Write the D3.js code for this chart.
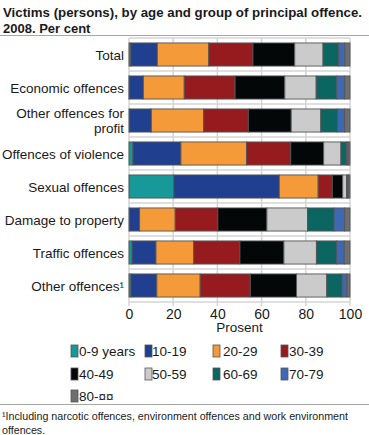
<!DOCTYPE html>
<html><head><meta charset="utf-8">
<script src="https://cdn.jsdelivr.net/npm/d3@7"></script>
<style>body{margin:0;background:#fff;} text{font-family:"Liberation Sans",Arial,sans-serif;fill:#1a1a1a;}</style>
</head><body><svg id="c" width="369" height="435"></svg>
<script>
const categories = ["Total","Economic offences","Other offences for profit","Offences of violence","Sexual offences","Damage to property","Traffic offences","Other offences¹"];
const ageGroups = ["0-9 years","10-19","20-29","30-39","40-49","50-59","60-69","70-79","80-¤¤"];
const colors = ["#17999a","#213f8f","#f49a38","#961b1e","#030708","#cbcbcb","#0b6661","#3d68b4","#6d6e71"];
const totalVals      = [0.8, 12.0, 23.3, 20.0, 18.9, 12.8, 7.1, 2.8, 2.3];
const economicVals   = [0.1, 6.4, 18.5, 23.0, 22.5, 14.2, 9.3, 3.6, 2.4];
const profitVals     = [0.2, 9.9, 23.7, 20.2, 19.4, 13.4, 7.6, 3.2, 2.4];
const violenceVals   = [1.8, 21.7, 29.7, 20.0, 14.9, 7.8, 2.6, 0.7, 0.8];
const sexualVals     = [20.3, 47.7, 17.6, 6.4, 4.7, 1.8, 0.4, 0.3, 0.8];
const damageVals     = [0.2, 4.6, 16.1, 19.3, 22.2, 18.4, 12.0, 4.8, 2.4];
const trafficVals    = [1.4, 10.8, 17.1, 20.9, 19.9, 14.7, 9.2, 3.4, 2.6];
const otherVals      = [0.9, 11.7, 19.6, 22.7, 20.9, 13.7, 6.9, 2.2, 1.4];
const xTicks = [0, 20, 40, 60, 80, 100];
const titleLines = ["Victims (persons), by age and group of principal offence.", "2008. Per cent"];
const xTitle = "Prosent";
const footnoteLines = ["¹Including narcotic offences, environment offences and work environment", "offences."];
const labelLines = {"Other offences for profit": ["Other offences for", "profit"]};

const seriesByCat = [totalVals, economicVals, profitVals, violenceVals, sexualVals, damageVals, trafficVals, otherVals];
const rows = categories.map((c, i) => {
  const o = {cat: c};
  ageGroups.forEach((a, j) => o[a] = seriesByCat[i][j]);
  return o;
});
const stacked = d3.stack().keys(ageGroups)(rows);

const svg = d3.select("#c");
const FONT = 13.5;

// Title
const tt = svg.selectAll("text.title").data(titleLines).join("text")
  .attr("class", "title").attr("x", 3).attr("y", (d, i) => 17 + i * 15.5)
  .style("font-weight", "bold").style("font-size", "13px").text(d => d);
tt.each(function () {
  const w = this.getComputedTextLength();
  if (w > 300 && w < 359) {
    d3.select(this).attr("textLength", 359).attr("lengthAdjust", "spacingAndGlyphs");
  }
});
svg.append("line").attr("x1", 0).attr("x2", 369).attr("y1", 35.5).attr("y2", 35.5)
  .attr("stroke", "#a6a6a6").attr("stroke-width", 1);

const x = d3.scaleLinear().domain([0, 100]).range([129, 350]);
const y = d3.scaleBand().domain(categories).range([38, 302]).paddingInner(0.3).paddingOuter(0.15);

// grid
const g = svg.append("g");
g.selectAll("line.v").data(xTicks).join("line").attr("class", "v")
  .attr("x1", d => x(d)).attr("x2", d => x(d)).attr("y1", 38).attr("y2", 306)
  .attr("stroke", "#d4d4d4").attr("stroke-width", 1.5);
const bounds = categories.map(c => y(c) - y.step() * 0.15).concat([302]);
g.selectAll("line.h").data(bounds).join("line").attr("class", "h")
  .attr("x1", x(0)).attr("x2", x(100)).attr("y1", d => d).attr("y2", d => d)
  .attr("stroke", "#d4d4d4").attr("stroke-width", 1.5);

// bars
svg.append("g").selectAll("g").data(stacked).join("g")
  .attr("fill", (d, i) => colors[i])
  .selectAll("rect").data(d => d).join("rect")
  .attr("x", d => x(d[0])).attr("width", d => x(d[1]) - x(d[0]))
  .attr("y", d => y(d.data.cat)).attr("height", y.bandwidth())
  .attr("stroke", "#555").attr("stroke-width", 0.9);

// y labels
const yl = svg.append("g");
categories.forEach(c => {
  const lines = labelLines[c] || [c];
  const cy = y(c) + y.bandwidth() / 2;
  const lh = 15;
  const t = yl.append("text").attr("text-anchor", "end").style("font-size", FONT + "px");
  lines.forEach((l, i) => {
    t.append("tspan").attr("x", 124)
      .attr("y", cy + (i - (lines.length - 1) / 2) * lh + 5).text(l);
  });
});

// x axis
const xa = svg.append("g").attr("transform", "translate(0,306)")
  .call(d3.axisBottom(x).tickValues(xTicks).tickSize(0).tickPadding(3));
xa.select(".domain").remove();
xa.selectAll("text").style("font-size", "14px").style("font-family", '"Liberation Sans",Arial,sans-serif').attr("fill", "#1a1a1a");
svg.append("text").attr("x", (x(0) + x(100)) / 2).attr("y", 332).attr("text-anchor", "middle")
  .style("font-size", FONT + "px").text(xTitle);

// legend
const swX = [71, 145, 213, 281];
const txX = [79, 152, 223, 289];
const rowY = [345, 368, 390];
const lg = svg.append("g");
ageGroups.forEach((a, i) => {
  const col = i % 4, row = Math.floor(i / 4);
  lg.append("rect").attr("x", swX[col]).attr("y", rowY[row]).attr("width", 7).attr("height", 12)
    .attr("fill", colors[i]).attr("stroke", "#555").attr("stroke-width", 0.8);
  lg.append("text").attr("x", txX[col]).attr("y", rowY[row] + 11)
    .style("font-size", FONT + "px").text(a);
});

// footnote
svg.append("line").attr("x1", 0).attr("x2", 369).attr("y1", 404.5).attr("y2", 404.5)
  .attr("stroke", "#a6a6a6").attr("stroke-width", 1);
svg.selectAll("text.fn").data(footnoteLines).join("text").attr("class", "fn")
  .attr("x", 2).attr("y", (d, i) => 420 + i * 14).style("font-size", "10.7px").text(d => d);
</script></body></html>
